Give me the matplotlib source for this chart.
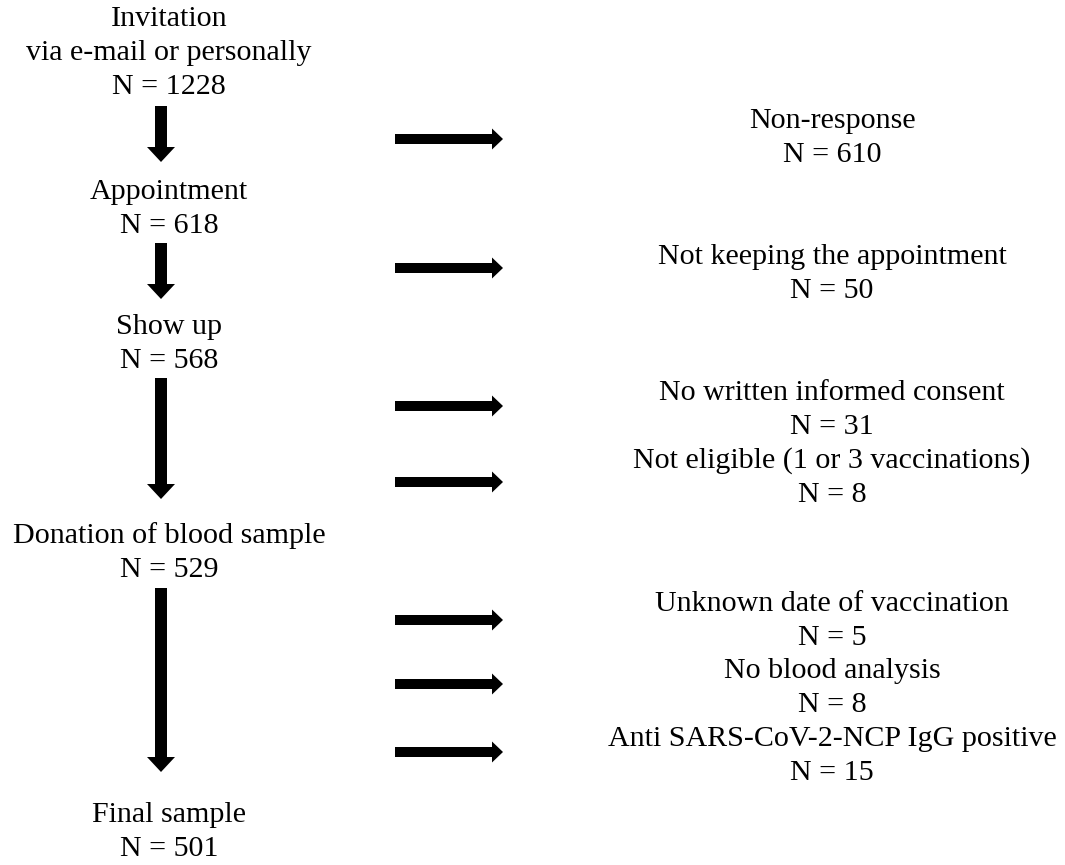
import matplotlib
matplotlib.use("Agg")
import matplotlib.pyplot as plt
from matplotlib.patches import FancyArrow

plt.rcParams['font.family'] = ['Liberation Serif', 'DejaVu Serif']

# Data
main_labels = ["Invitation\nvia e-mail or personally", "Appointment", "Show up",
               "Donation of blood sample", "Final sample"]
main_counts = [1228, 618, 568, 529, 501]
excl_labels = ["Non-response", "Not keeping the appointment", "No written informed consent",
               "Not eligible (1 or 3 vaccinations)", "Unknown date of vaccination",
               "No blood analysis", "Anti SARS-CoV-2-NCP IgG positive"]
excl_counts = [610, 50, 31, 8, 5, 8, 15]

# Layout (pixel coordinates, y downward)
W, H = 1065, 865
main_x = 169
main_y_top = [19, 192, 327, 536, 815]       # y of first text line
line_h = 34
down_arrows = [(106, 162), (243, 299), (378, 499), (588, 772)]
arrow_x = 161
right_x = 832
excl_y = [121, 257, 393, 461, 604, 671, 739]
right_arrows_y = [139, 268, 406, 482, 620, 684, 752]
right_arrow_x = (395, 503)

fig = plt.figure(figsize=(W / 100, H / 100), dpi=100)
ax = fig.add_axes([0, 0, 1, 1])
ax.set_xlim(0, W)
ax.set_ylim(H, 0)
ax.axis('off')

fs = 21.6
for lab, n, y in zip(main_labels, main_counts, main_y_top):
    lines = lab.split("\n") + [f"N = {n}"]
    for i, t in enumerate(lines):
        ax.text(main_x, y + i * line_h, t, ha='center', va='center', fontsize=fs)

for lab, n, y in zip(excl_labels, excl_counts, excl_y):
    ax.text(right_x, y, lab, ha='center', va='center', fontsize=fs)
    ax.text(right_x, y + line_h, f"N = {n}", ha='center', va='center', fontsize=fs)

for y0, y1 in down_arrows:
    ax.add_patch(FancyArrow(arrow_x, y0, 0, y1 - y0, width=12, head_width=28,
                            head_length=15, length_includes_head=True,
                            color='black', lw=0))

for y in right_arrows_y:
    x0, x1 = right_arrow_x
    ax.add_patch(FancyArrow(x0, y, x1 - x0, 0, width=10, head_width=21,
                            head_length=11, length_includes_head=True,
                            color='black', lw=0))

fig.savefig("out.png", dpi=100, facecolor='white')
